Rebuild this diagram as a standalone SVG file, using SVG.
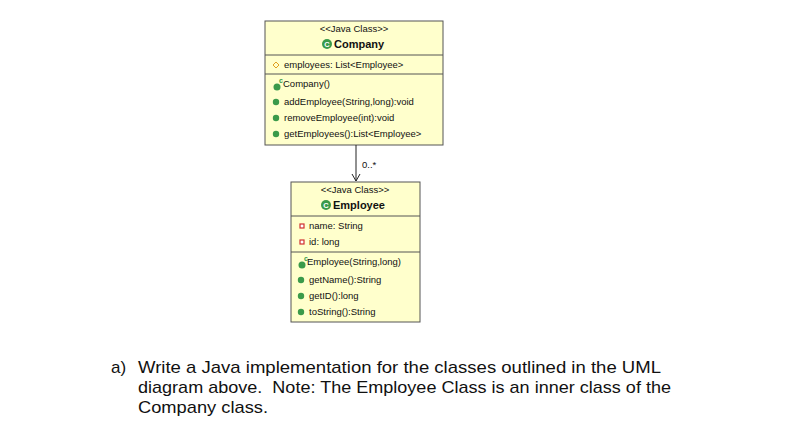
<svg xmlns="http://www.w3.org/2000/svg" width="799" height="439" viewBox="0 0 799 439">
<style>
.box{fill:#ffffcc;stroke:#555;stroke-width:1}
.ln{stroke:#555;stroke-width:1}
text{font-family:"Liberation Sans",Arial,sans-serif;fill:#111}
.s{font-size:9.5px}
.t{font-size:11px;font-weight:bold}
.q{font-size:17px}
.g{fill:#3a9a4a}
.r{fill:#fff;stroke:#d03030;stroke-width:1.2}
</style>
<rect width="799" height="439" fill="#fff"/>
<g id="company">
<rect class="box" x="265" y="21" width="178" height="124"/>
<line class="ln" x1="265" y1="55" x2="443" y2="55"/>
<line class="ln" x1="265" y1="74" x2="443" y2="74"/>
<text class="s" x="354" y="32" text-anchor="middle">&lt;&lt;Java Class&gt;&gt;</text>
<circle class="g" cx="327" cy="44" r="5"/><text x="327" y="47" font-size="7.5" font-weight="bold" text-anchor="middle" style="fill:#fff">C</text>
<text class="t" x="334" y="48">Company</text>
<path d="M276 62l3 3-3 3-3-3z" fill="none" stroke="#e0a020"/>
<text class="s" x="284" y="68">employees: List&lt;Employee&gt;</text>
<circle class="g" cx="277" cy="87" r="3.5"/><text x="279" y="83" font-size="7" font-weight="bold" style="fill:#3a9a4a">c</text>
<text class="s" x="283" y="87">Company()</text>
<circle class="g" cx="276" cy="102" r="3.2"/><text class="s" x="284" y="105">addEmployee(String,long):void</text>
<circle class="g" cx="276" cy="118" r="3.2"/><text class="s" x="284" y="121">removeEmployee(int):void</text>
<circle class="g" cx="276" cy="134" r="3.2"/><text class="s" x="284" y="137">getEmployees():List&lt;Employee&gt;</text>
</g>
<g id="employee">
<rect class="box" x="291" y="182" width="129" height="140"/>
<line class="ln" x1="291" y1="216" x2="420" y2="216"/>
<line class="ln" x1="291" y1="252" x2="420" y2="252"/>
<text class="s" x="355" y="193" text-anchor="middle">&lt;&lt;Java Class&gt;&gt;</text>
<circle class="g" cx="326" cy="205" r="5"/><text x="326" y="208" font-size="7.5" font-weight="bold" text-anchor="middle" style="fill:#fff">C</text>
<text class="t" x="333" y="209">Employee</text>
<rect class="r" x="300" y="224" width="4" height="4"/><text class="s" x="309" y="229">name: String</text>
<rect class="r" x="300" y="240" width="4" height="4"/><text class="s" x="309" y="245">id: long</text>
<circle class="g" cx="302" cy="265" r="3.5"/><text x="304" y="261" font-size="7" font-weight="bold" style="fill:#3a9a4a">c</text>
<text class="s" x="307" y="265">Employee(String,long)</text>
<circle class="g" cx="301" cy="280" r="3.2"/><text class="s" x="309" y="283">getName():String</text>
<circle class="g" cx="301" cy="296" r="3.2"/><text class="s" x="309" y="299">getID():long</text>
<circle class="g" cx="301" cy="312" r="3.2"/><text class="s" x="309" y="315">toString():String</text>
</g>
<g id="connectors">
<line x1="356" y1="145" x2="356" y2="181" stroke="#222"/>
<path d="M352 174l4 7 4-7" fill="none" stroke="#222"/>
<text class="s" x="362" y="168">0..*</text>
</g>
<text class="q" x="111" y="373">a)</text>
<text class="q" x="138" y="373" textLength="523" lengthAdjust="spacingAndGlyphs">Write a Java implementation for the classes outlined in the UML</text>
<text class="q" x="138" y="393" textLength="533" lengthAdjust="spacingAndGlyphs" xml:space="preserve">diagram above.  Note: The Employee Class is an inner class of the</text>
<text class="q" x="138" y="413" textLength="130" lengthAdjust="spacingAndGlyphs">Company class.</text>
</svg>
